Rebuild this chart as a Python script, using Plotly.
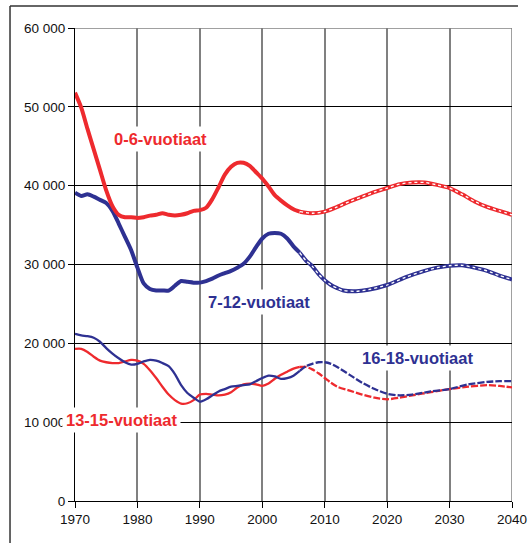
import plotly.graph_objects as go

# ---------------- data (values in persons) ----------------
y06_hist_years = [1970,1971,1972,1973,1974,1975,1976,1977,1978,1979,1980,1981,1982,1983,1984,1985,1986,1987,1988,1989,1990,1991,1992,1993,1994,1995,1996,1997,1998,1999,2000,2001,2002,2003,2004,2005,2006]
y06_hist = [51800,49900,47200,44600,42000,39400,37400,36300,36000,36000,35900,36000,36200,36300,36500,36300,36200,36300,36500,36800,36900,37200,38300,39800,41400,42400,42900,42900,42500,41700,40900,39900,38800,38100,37500,37000,36700]
y06_proj_years = [2006,2008,2010,2012,2014,2016,2018,2020,2022,2024,2026,2028,2030,2032,2034,2036,2038,2040]
y06_proj = [36700,36500,36700,37300,38000,38600,39200,39700,40200,40400,40400,40100,39700,38900,38000,37300,36800,36300]

y712_hist_years = y06_hist_years
y712_hist = [39100,38700,38900,38600,38200,37800,36800,35200,33500,31800,29600,27600,26900,26700,26700,26700,27300,27900,27800,27700,27700,27900,28200,28600,28900,29200,29600,30100,31000,32200,33300,33900,34000,33900,33300,32300,31500]
y712_proj_years = [2006,2007,2008,2009,2010,2011,2012,2013,2015,2017,2020,2023,2026,2028,2030,2032,2034,2036,2038,2040]
y712_proj = [31500,30500,29800,28800,28000,27400,27000,26700,26600,26800,27400,28400,29200,29600,29850,29900,29600,29200,28600,28100]

y1315_hist_years = y06_hist_years
y1315_hist = [19300,19300,18900,18300,17800,17600,17500,17500,17700,17900,17800,17400,16600,15600,14500,13500,12800,12350,12400,12800,13500,13600,13500,13400,13500,13800,14400,14800,14900,14800,14600,14900,15500,16000,16400,16800,17000]
y1315_proj_years = [2006,2007,2008,2009,2010,2011,2012,2014,2016,2018,2020,2022,2024,2027,2030,2033,2036,2038,2040]
y1315_proj = [17000,17000,16700,16200,15600,15000,14500,14000,13500,13100,12900,13100,13400,13800,14200,14500,14700,14600,14400]

y1618_hist_years = y06_hist_years
y1618_hist = [21200,21000,20900,20700,20200,19400,18700,18100,17600,17300,17400,17700,17900,17800,17500,17100,16100,14700,13700,13100,12600,12900,13400,13900,14200,14500,14600,14700,14800,15200,15600,15900,15800,15500,15600,15900,16500]
y1618_proj_years = [2006,2007,2008,2009,2010,2011,2012,2014,2016,2018,2020,2022,2024,2027,2030,2033,2036,2038,2040]
y1618_proj = [16500,17100,17400,17600,17600,17400,17000,16000,15000,14200,13600,13400,13500,13900,14200,14800,15100,15200,15200]

x_ticks = [1970,1980,1990,2000,2010,2020,2030,2040]
y_ticks = [0,10000,20000,30000,40000,50000,60000]
y_ticktext = ["0","10 000","20 000","30 000","40 000","50 000","60 000"]

labels = ["0-6-vuotiaat","7-12-vuotiaat","13-15-vuotiaat","16-18-vuotiaat"]
label_x = [1983.7,1999.4,1977.4,2024.9]
label_y = [45900,25200,10300,18200]

RED = "#EE2A2E"
BLUE = "#2E3192"
colors = [RED, BLUE, RED, BLUE]

fig = go.Figure()

def add_series(hx, hy, px, py, color, width, thick):
    fig.add_trace(go.Scatter(x=hx, y=hy, mode="lines", line=dict(color=color, width=width, shape="spline", smoothing=0.7), showlegend=False, hoverinfo="skip"))
    if thick:
        fig.add_trace(go.Scatter(x=px, y=py, mode="lines", line=dict(color=color, width=width, shape="spline", smoothing=0.7), showlegend=False, hoverinfo="skip"))
        fig.add_trace(go.Scatter(x=px, y=py, mode="lines", line=dict(color="white", width=1.3, dash="3px,3px", shape="spline", smoothing=0.7), showlegend=False, hoverinfo="skip"))
    else:
        fig.add_trace(go.Scatter(x=px, y=py, mode="lines", line=dict(color=color, width=width, dash="7px,2px", shape="spline", smoothing=0.7), showlegend=False, hoverinfo="skip"))

add_series(y1315_hist_years, y1315_hist, y1315_proj_years, y1315_proj, RED, 2.3, False)
add_series(y1618_hist_years, y1618_hist, y1618_proj_years, y1618_proj, BLUE, 2.3, False)
add_series(y712_hist_years, y712_hist, y712_proj_years, y712_proj, BLUE, 4, True)
add_series(y06_hist_years, y06_hist, y06_proj_years, y06_proj, RED, 4, True)

for t, lx, ly, c in zip(labels, label_x, label_y, colors):
    fig.add_annotation(x=lx, y=ly, xref="x", yref="y", text=t, showarrow=False,
                       font=dict(family="Liberation Sans, Arial", size=16.5, color=c, weight="bold"),
                       bgcolor="white", borderpad=3)

# plot frame edges (gray) and outer border
fig.add_shape(type="line", xref="x", yref="y", x0=1970, x1=2040, y0=60000, y1=60000, line=dict(color="#808080", width=1.5), layer="below")
fig.add_shape(type="line", xref="x", yref="y", x0=2040, x1=2040, y0=0, y1=60000, line=dict(color="#808080", width=1.5), layer="below")
fig.add_shape(type="line", xref="paper", yref="paper", x0=-0.1487, x1=1.0137, y0=1.0465, y1=1.0465, line=dict(color="#333333", width=1.5))
fig.add_shape(type="line", xref="paper", yref="paper", x0=-0.1487, x1=-0.1487, y0=1.0465, y1=-0.1, line=dict(color="#333333", width=1.5))

fig.update_layout(
    width=528, height=543, autosize=False,
    margin=dict(l=75, r=16, t=28, b=42, autoexpand=False),
    paper_bgcolor="white", plot_bgcolor="white",
    font=dict(family="Liberation Sans, Arial", size=13.5, color="#111111"),
    showlegend=False,
)
fig.update_xaxes(range=[1970, 2040], tickvals=x_ticks, showgrid=True, gridcolor="#808080", gridwidth=1.5,
                 showline=True, linecolor="black", linewidth=1, ticks="outside", ticklen=6, tickcolor="black",
                 zeroline=False, fixedrange=True, automargin=False)
fig.update_yaxes(range=[0, 60000], tickvals=y_ticks, ticktext=y_ticktext, showgrid=True, gridcolor="black", gridwidth=1,
                 showline=True, linecolor="black", linewidth=1, ticks="outside", ticklen=6, tickcolor="black",
                 zeroline=False, fixedrange=True, automargin=False)

fig.write_html("out.html", config={"displayModeBar": False},
               post_script="document.body.style.margin='0';document.body.style.overflow='hidden';")
